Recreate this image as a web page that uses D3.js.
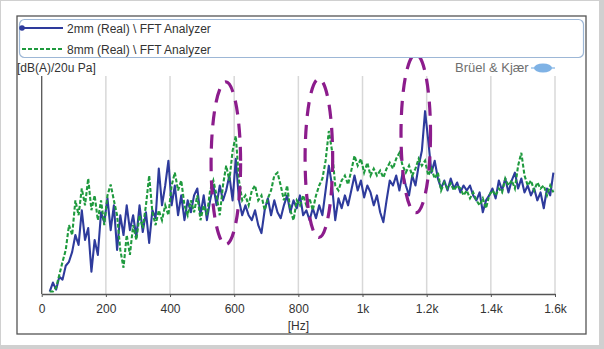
<!DOCTYPE html>
<html>
<head>
<meta charset="utf-8">
<script src="https://cdn.jsdelivr.net/npm/d3@7"></script>
<style>
  html, body { margin: 0; padding: 0; background: #fff; }
  svg { display: block; font-family: "Liberation Sans", Arial, sans-serif; }
</style>
</head>
<body>
<svg width="604" height="349"></svg>
<script>
// FFT bins, every 10 Hz
const freqs = d3.range(25, 1600, 10);

// 2mm (Real) \ FFT Analyzer, dB(A)
const real2mm = [
  4, 7.6, 4.8, 10, 8.8, 14.4, 16, 20, 26.8, 22.8,
  36.8, 24.8, 29.6, 12, 24.8, 18.8, 36, 32, 41.6, 28.8,
  38.8, 20.8, 34.8, 26.8, 38.8, 28.8, 34.8, 26, 38.8, 28,
  36, 23.6, 36.8, 33.6, 53.6, 38.8, 46.8, 56.8, 38.8, 46.8,
  34.8, 42.8, 32.8, 40.8, 36, 42.8, 45.6, 34.8, 42.8, 32.8,
  40.8, 46.8, 38.8, 46.8, 40.8, 44.8, 50.8, 40.8, 57.6, 40.8,
  34.8, 38.8, 34.8, 32.8, 36.8, 30.8, 27.6, 36.8, 41.6, 34.8,
  40.8, 36, 33.6, 38.8, 42.8, 36, 40.8, 37.6, 42.8, 34.8,
  36.8, 32.8, 37.6, 33.6, 38.8, 34.8, 44.8, 54.8, 46.8, 32.8,
  41.6, 37.6, 42.8, 38.8, 44.8, 50.8, 44.8, 48.8, 42, 46.8,
  44, 38.8, 42.8, 36, 32, 40.8, 48.8, 46.8, 50.8, 44.8,
  52, 46.8, 42.8, 50.8, 46.8, 54.8, 60.8, 76.8, 64.8, 52,
  56.8, 49.6, 45.6, 48.8, 44.8, 49.6, 45.6, 48, 44, 46.8,
  44.8, 46.8, 42.8, 40.8, 44, 36, 40.8, 42.8, 45.6, 41.6,
  48.8, 44.8, 49.6, 44, 48.8, 52, 45.6, 49.6, 44, 46.8,
  42.8, 45.6, 40.8, 44, 37.6, 45.6, 42.8, 52
];

// 8mm (Real) \ FFT Analyzer, dB(A)
const real8mm = [
  4, 4, 5.6, 10.8, 16, 20.8, 30.8, 26.8, 40.8, 34.8,
  45.6, 38.8, 49.6, 36.8, 42.8, 32.8, 40.8, 30.8, 42.8, 47.2,
  40.8, 34.8, 20.8, 13.6, 26.8, 18.8, 30.8, 24.8, 34.8, 29.6,
  38.8, 50.8, 36, 30.8, 36.8, 32.8, 38.8, 34.8, 46.8, 52,
  44.8, 48.8, 38.8, 34.8, 40.8, 36, 42.8, 32.8, 38.8, 34.8,
  44.8, 48.8, 42.8, 34.8, 46.8, 54.8, 48.8, 60.8, 66.8, 48.8,
  40.8, 42.8, 38.8, 44.8, 46.8, 40.8, 42.8, 36.8, 41.6, 44.8,
  50.8, 52, 46.8, 40.8, 46.8, 36.8, 32.8, 40.8, 38.8, 42.8,
  38.8, 41.6, 36.8, 42.8, 46.8, 49.6, 56.8, 68.8, 60.8, 46.8,
  44.8, 48.8, 50.8, 47.2, 52.8, 58.8, 54.8, 57.6, 52, 56,
  50.8, 53.6, 50.8, 52.8, 50, 53.6, 56, 53.6, 57.6, 60,
  54.8, 52, 54.8, 50.8, 53.6, 57.6, 54.8, 56.8, 50.8, 53.6,
  49.6, 52, 44.8, 48, 45.6, 47.6, 44.8, 46.8, 45.6, 42.8,
  44.8, 41.6, 44, 40.8, 38.8, 41.6, 37.6, 42.8, 44.8, 42.8,
  45.6, 44, 49.6, 46.8, 48.8, 45.6, 54.8, 60, 50.8, 46.8,
  48.8, 44.8, 48, 45.6, 46.8, 42.8, 46.8, 44
];

const seriesNames = ["2mm (Real) \\ FFT Analyzer", "8mm (Real) \\ FFT Analyzer"];
const xTicks = [0, 200, 400, 600, 800, 1000, 1200, 1400, 1600];
const xTickLabels = ["0", "200", "400", "600", "800", "1k", "1.2k", "1.4k", "1.6k"];

// highlighted peaks: centre Hz, centre dB, half width Hz, half height dB
const peakHz = [574, 864, 1166];
const peakDb = [55.8, 57.8, 67.8];
const peakRx = [46, 43, 46];
const peakRy = [32.8, 32, 32];

const svg = d3.select("svg");
const plotLeft = 41.7, plotRight = 555, plotTop = 76, plotBottom = 294;

// outer frame + panel
svg.append("rect").attr("width", 604).attr("height", 349).attr("fill", "#d0d0d0");
svg.append("rect").attr("x", 1).attr("y", 1).attr("width", 598).attr("height", 344).attr("fill", "#fff");
svg.append("rect")
  .attr("x", 17).attr("y", 16).attr("width", 569).attr("height", 318)
  .attr("fill", "#fff").attr("stroke", "#555").attr("stroke-width", 1.3);

const x = d3.scaleLinear().domain([0, 1600]).range([plotLeft, plotRight]);
const y = d3.scaleLinear().domain([3, 91]).range([plotBottom, plotTop]);

// grid
svg.append("g")
  .selectAll("line")
  .data(xTicks.slice(1))
  .enter()
  .append("line")
  .attr("x1", d => x(d)).attr("x2", d => x(d))
  .attr("y1", plotTop).attr("y2", plotBottom)
  .attr("stroke", "#d8d8d8").attr("stroke-width", 1.5);

// axes
const xAxis = d3.axisBottom(x)
  .tickValues(xTicks)
  .tickFormat((d, i) => xTickLabels[i])
  .tickSize(3)
  .tickPadding(7)
  .tickSizeOuter(0);

const gx = svg.append("g")
  .attr("transform", `translate(0, ${plotBottom})`)
  .call(xAxis);
gx.select(".domain").attr("stroke", "#555").attr("stroke-width", 1.3);
gx.selectAll(".tick line").attr("stroke", "#555");
gx.selectAll("text").attr("fill", "#333").style("font-size", "12px")
  .style("font-family", "Liberation Sans, Arial, sans-serif");

svg.append("line")
  .attr("x1", plotLeft).attr("x2", plotLeft).attr("y1", plotTop).attr("y2", plotBottom)
  .attr("stroke", "#555").attr("stroke-width", 1.3);

svg.append("text")
  .attr("x", x(800)).attr("y", 330)
  .attr("text-anchor", "middle").attr("fill", "#333").style("font-size", "12px")
  .text("[Hz]");

svg.append("text")
  .attr("x", 17).attr("y", 72)
  .attr("fill", "#333").style("font-size", "12px")
  .text("[dB(A)/20u Pa]");

// data
svg.append("clipPath").attr("id", "plot")
  .append("rect").attr("x", plotLeft).attr("y", plotTop - 10)
  .attr("width", plotRight - plotLeft).attr("height", plotBottom - plotTop + 10);

const line = d3.line()
  .x((d, i) => x(freqs[i]))
  .y(d => y(d));

const plot = svg.append("g").attr("clip-path", "url(#plot)");

plot.append("path")
  .datum(real2mm)
  .attr("d", line)
  .attr("fill", "none")
  .attr("stroke", "#2e3b9c")
  .attr("stroke-width", 2.1)
  .attr("stroke-linejoin", "round");

plot.append("path")
  .datum(real8mm)
  .attr("d", line)
  .attr("fill", "none")
  .attr("stroke", "#1f9a3e")
  .attr("stroke-width", 2.1)
  .attr("stroke-dasharray", "4,2");

// peak annotations
svg.append("g")
  .selectAll("ellipse")
  .data(peakHz)
  .enter()
  .append("ellipse")
  .attr("cx", d => x(d))
  .attr("cy", (d, i) => y(peakDb[i]))
  .attr("rx", (d, i) => x(peakRx[i]) - x(0))
  .attr("ry", (d, i) => y(0) - y(peakRy[i]))
  .attr("fill", "none")
  .attr("stroke", "#8c1c8c")
  .attr("stroke-width", 3.2)
  .attr("stroke-dasharray", "14,9");

// legend
svg.append("rect")
  .attr("x", 19.5).attr("y", 19.5).attr("width", 564).attr("height", 38).attr("rx", 5)
  .attr("fill", "#fff").attr("stroke", "#9db7d6").attr("stroke-width", 1.2);

const legend = svg.append("g");
legend.append("line")
  .attr("x1", 22).attr("x2", 63).attr("y1", 28).attr("y2", 28)
  .attr("stroke", "#2e3b9c").attr("stroke-width", 1.8);
legend.append("circle").attr("cx", 22).attr("cy", 28).attr("r", 2.8).attr("fill", "#2e3b9c");
legend.append("line")
  .attr("x1", 22).attr("x2", 63).attr("y1", 49).attr("y2", 49)
  .attr("stroke", "#1f9a3e").attr("stroke-width", 1.8).attr("stroke-dasharray", "4,2");

legend.selectAll("text")
  .data(seriesNames)
  .enter()
  .append("text")
  .attr("x", 67)
  .attr("y", (d, i) => 33 + i * 20.5)
  .attr("fill", "#333")
  .style("font-size", "12px")
  .text(d => d);

// brand mark
svg.append("text")
  .attr("x", 455).attr("y", 72)
  .attr("fill", "#6f6f6f").style("font-size", "13px")
  .text("Brüel & Kjær");
svg.append("ellipse")
  .attr("cx", 543).attr("cy", 68).attr("rx", 9).attr("ry", 4.5)
  .attr("fill", "#7fb2e5");
svg.append("line")
  .attr("x1", 531).attr("x2", 555).attr("y1", 68).attr("y2", 68)
  .attr("stroke", "#7fb2e5").attr("stroke-width", 1.2);
</script>
</body>
</html>
